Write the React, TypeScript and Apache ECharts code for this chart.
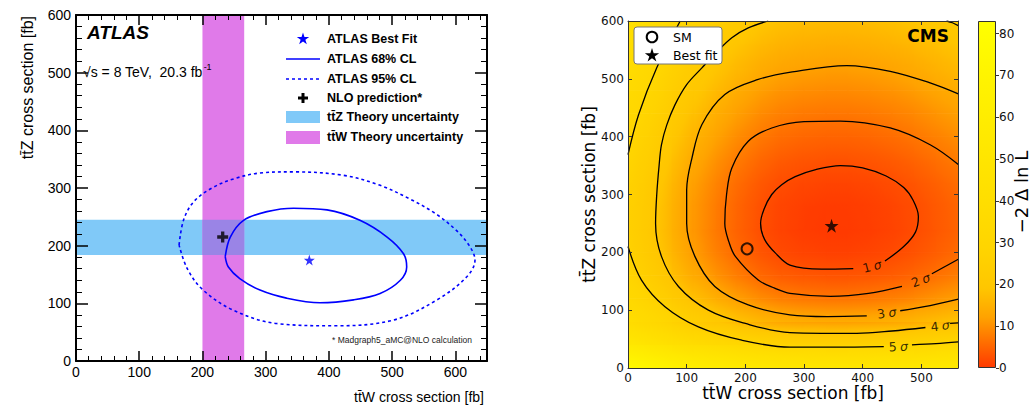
import React, { useEffect, useRef } from 'react';
import * as echarts from 'echarts';

// ---------------- ATLAS panel data ----------------
const ttzBand = [184, 245];
const ttwBand = [200, 266];
const nloPrediction = [232, 215];
const atlasBestFit = [369, 175];
const atlas68 = [[236,181],[244,215],[265,244],[302,259],[344,265],[397,262],[449,244],[492,215],[518,186],[523,163],[513,140],[481,117],[439,106],[386,101],[333,109],[291,123],[259,143],[241,163],[236,181]];
const atlas95 = [[163,201],[170,244],[186,276],[215,300],[250,316],[291,326],[344,328],[423,322],[480,305],[528,281],[568,256],[600,228],[622,200],[631,175],[618,146],[571,106],[502,71],[412,61],[317,65],[249,88],[201,123],[176,160],[163,201]];
const atlasXTicks = [0, 100, 200, 300, 400, 500, 600];

// ---------------- CMS panel data ----------------
const cmsBestFit = [347, 246];
const cmsSM = [203, 206];
const nllX = [18.75, 56.25, 93.75, 131.25, 168.75, 206.25, 243.75, 281.25, 318.75, 356.25, 393.75, 431.25, 468.75, 506.25, 543.75];
const nllY = [20, 60, 100, 140, 180, 220, 260, 300, 340, 380, 420, 460, 500, 540, 580];
// -2 Delta ln L, rows follow nllY (bottom to top), columns follow nllX
const nllGrid = [
  [63.7, 58.4, 53.1, 49.5, 46.4, 44.0, 42.1, 41.1, 40.6, 40.4, 40.6, 41.1, 41.9, 43.1, 44.5],
  [42.3, 37.0, 31.7, 28.1, 25.0, 22.6, 20.7, 19.7, 19.2, 19.0, 19.2, 19.7, 20.5, 21.7, 23.1],
  [33.5, 28.2, 22.9, 19.3, 16.2, 13.8, 11.9, 10.9, 10.4, 10.2, 10.4, 10.9, 11.7, 12.9, 14.3],
  [28.2, 22.9, 17.6, 14.0, 10.9, 8.5, 6.6, 5.6, 5.1, 4.9, 5.1, 5.6, 6.4, 7.6, 9.0],
  [25.1, 19.8, 14.5, 10.9, 7.8, 5.4, 3.5, 2.5, 2.0, 1.8, 2.0, 2.5, 3.3, 4.5, 5.9],
  [23.6, 18.3, 13.0, 9.4, 6.3, 3.9, 2.0, 1.0, 0.5, 0.3, 0.5, 1.0, 1.8, 3.0, 4.4],
  [23.4, 18.1, 12.8, 9.2, 6.1, 3.7, 1.8, 0.8, 0.2, 0.1, 0.3, 0.8, 1.6, 2.8, 4.2],
  [23.9, 18.6, 13.3, 9.7, 6.6, 4.2, 2.3, 1.3, 0.8, 0.6, 0.8, 1.3, 2.1, 3.3, 4.7],
  [25.2, 19.9, 14.6, 11.0, 7.9, 5.5, 3.6, 2.6, 2.1, 1.9, 2.1, 2.6, 3.4, 4.6, 6.0],
  [27.1, 21.8, 16.5, 12.9, 9.8, 7.4, 5.5, 4.5, 4.0, 3.8, 4.0, 4.5, 5.3, 6.5, 7.9],
  [29.2, 23.9, 18.6, 15.0, 11.9, 9.5, 7.6, 6.6, 6.1, 5.9, 6.1, 6.6, 7.4, 8.6, 10.0],
  [31.4, 26.1, 20.8, 17.2, 14.1, 11.7, 9.8, 8.8, 8.3, 8.1, 8.3, 8.8, 9.6, 10.8, 12.2],
  [33.8, 28.5, 23.2, 19.6, 16.5, 14.1, 12.2, 11.2, 10.7, 10.5, 10.7, 11.2, 12.0, 13.2, 14.6],
  [36.2, 30.9, 25.6, 22.0, 18.9, 16.5, 14.6, 13.6, 13.1, 12.9, 13.1, 13.6, 14.4, 15.6, 17.0],
  [38.9, 33.6, 28.3, 24.7, 21.6, 19.2, 17.3, 16.3, 15.8, 15.6, 15.8, 16.3, 17.1, 18.3, 19.7],
];
const contour1s = [[[438,185],[470,210],[490,235],[495,262],[486,290],[470,312],[440,332],[400,346],[362,350],[320,343],[285,331],[262,317],[245,300],[232,275],[226,250],[233,222],[251,199],[276,178],[330,171],[384,172]]];
const contour2s = [[[563,352],[515,386],[447,415],[362,427],[300,426],[245,415],[205,392],[177,346],[168,300],[165,250],[172,218],[183,193],[222,152],[250,138],[276,129],[345,124],[410,129],[467,141]],[[518,163],[563,188]]];
const contour3s = [[[407,90],[340,89],[276,92],[205,109],[148,141],[114,193],[100,250],[100,308],[109,363],[126,421],[165,473],[222,499],[280,512],[373,523],[447,513],[515,493],[563,474]],[[464,99],[515,108],[563,119]]];
const contour4s = [[[507,70],[450,64],[390,60],[330,60],[276,61],[200,77],[137,100],[86,141],[57,193],[47,250],[49,300],[53,350],[57,386],[66,420],[80,455],[100,490],[126,519],[150,545],[177,571],[205,588],[239,600]],[[549,77],[563,78]],[[543,600],[553,597],[563,592]]];
const contour5s = [[[436,37],[350,36],[276,36],[194,48],[120,71],[63,106],[23,152],[0,210]],[[484,40],[525,42],[563,45]],[[0,369],[18,438],[49,519],[89,600]]];
const contourLabelText = ['1', '2', '3', '4', '5'];
const contourLabelPos = [[416,176],[499,152],[441,95],[532,73],[461,37]];
const contourLabelAngle = [15, 20, 8, 7, 3];
const colorbarMax = 83;

// ---------------- styling helpers ----------------
const FL = 'Liberation Sans, Arial, Helvetica, sans-serif';
const FR = 'DejaVu Sans, Verdana, sans-serif';
const cmapStops: [number, number[]][] = [
  [0, [255, 58, 0]], [2.3, [255, 78, 0]], [6, [255, 110, 0]], [12, [255, 162, 0]],
  [19, [255, 198, 0]], [29, [255, 213, 0]], [40, [255, 222, 0]], [55, [255, 233, 0]],
  [70, [255, 244, 0]], [83, [255, 255, 0]],
];
function cmap(v: number) {
  if (v <= cmapStops[0][0]) return toRgb(cmapStops[0][1]);
  for (let i = 1; i < cmapStops.length; i++) {
    const [v1, c1] = cmapStops[i];
    const [v0, c0] = cmapStops[i - 1];
    if (v <= v1) {
      const t = (v - v0) / (v1 - v0);
      return toRgb(c0.map((c, k) => c + (c1[k] - c) * t));
    }
  }
  return toRgb(cmapStops[cmapStops.length - 1][1]);
}
function toRgb(c: number[]) {
  return `rgb(${Math.round(c[0])},${Math.round(c[1])},${Math.round(c[2])})`;
}
function starPoints(cx: number, cy: number, R: number) {
  const pts: number[][] = [];
  for (let i = 0; i < 10; i++) {
    const r = i % 2 === 0 ? R : R * 0.382;
    const a = -Math.PI / 2 + (i * Math.PI) / 5;
    pts.push([cx + r * Math.cos(a), cy + r * Math.sin(a)]);
  }
  return pts;
}
const STAR = 'path://M0,-10L2.245,-3.09L9.51,-3.09L3.633,1.18L5.88,8.09L0,3.82L-5.88,8.09L-3.633,1.18L-9.51,-3.09L-2.245,-3.09Z';
const PLUS = 'path://M3.5,0H6.5V3.5H10V6.5H6.5V10H3.5V6.5H0V3.5H3.5Z';
const bandColors = ['#80c9f8', '#e07ae9', '#9a84e6'];

function buildOption(): any {
  const bandRects = [
    [0, 650, ttzBand[0], ttzBand[1], 0],
    [ttwBand[0], ttwBand[1], 0, 600, 1],
    [ttwBand[0], ttwBand[1], ttzBand[0], ttzBand[1], 2],
  ];
  const heatData: number[][] = [];
  nllY.forEach((y, j) => nllX.forEach((x, i) => heatData.push([x, y, nllGrid[j][i]])));
  const dx = nllX[1] - nllX[0];
  const dy = nllY[1] - nllY[0];
  const nx = nllX.length;
  const ny = nllY.length;

  const contourSeries: any[] = [];
  [contour1s, contour2s, contour3s, contour4s, contour5s].forEach((segs) =>
    segs.forEach((seg) =>
      contourSeries.push({
        type: 'line', xAxisIndex: 2, yAxisIndex: 2, data: seg, smooth: 0.35, symbol: 'none',
        clip: true, z: 3, silent: true, lineStyle: { color: '#000', width: 1.3 },
      })
    )
  );

  const leftAxisLabel = { fontSize: 14, color: '#000', fontFamily: FL };
  const rightAxisLabel = { fontSize: 12, color: '#111', fontFamily: FR };

  const lxBase = {
    type: 'value', gridIndex: 0, min: 0, max: 650, interval: 100, z: 5,
    splitLine: { show: false },
    axisLine: { show: true, onZero: false, lineStyle: { color: '#000', width: 2 } },
    axisTick: { show: true, inside: true, length: 10, lineStyle: { color: '#000', width: 1.5 } },
    minorTick: { show: true, splitNumber: 5, length: 5, lineStyle: { color: '#000', width: 1 } },
  };
  const lyBase = {
    type: 'value', gridIndex: 0, min: 0, max: 600, interval: 100, z: 5,
    splitLine: { show: false },
    axisLine: { show: true, onZero: false, lineStyle: { color: '#000', width: 2 } },
    axisTick: { show: true, inside: true, length: 12, lineStyle: { color: '#000', width: 1.5 } },
    minorTick: { show: true, splitNumber: 5, length: 6, lineStyle: { color: '#000', width: 1 } },
  };
  const rxBase = {
    type: 'value', gridIndex: 1, min: 0, max: 562.5, interval: 100, z: 5,
    splitLine: { show: false },
    axisLine: { show: true, onZero: false, lineStyle: { color: '#333', width: 1 } },
    axisTick: { show: true, inside: true, length: 4, lineStyle: { color: '#333' } },
  };
  const ryBase = {
    type: 'value', gridIndex: 1, min: 0, max: 600, interval: 100, z: 5,
    splitLine: { show: false },
    axisLine: { show: true, onZero: false, lineStyle: { color: '#333', width: 1 } },
    axisTick: { show: true, inside: true, length: 4, lineStyle: { color: '#333' } },
  };

  const txt = (x: number, y: number, text: string, st: any, extra: any = {}) => ({
    type: 'text', x, y, z: 100, ...extra,
    style: { text, fill: '#000', verticalAlign: 'middle', align: 'left', ...st },
  });

  const legRows = [39, 59, 79, 98, 117, 137];
  const legendItems = ['ATLAS Best Fit', 'ATLAS 68% CL', 'ATLAS 95% CL', 'NLO prediction*', 'tt\u0304Z Theory uncertainty', 'tt\u0304W Theory uncertainty'];

  const graphic: any[] = [
    txt(87, 32, 'ATLAS', { fontSize: 19, fontWeight: 'bold', fontStyle: 'italic', fontFamily: FL }),
    txt(83, 72, '{a|\u221As = 8 TeV,  20.3 fb}{b|-1}', {
      fontFamily: FL,
      rich: {
        a: { fontSize: 14, fontFamily: FL, fill: '#000' },
        b: { fontSize: 9, fontFamily: FL, fill: '#000', verticalAlign: 'top', padding: [0, 0, 10, 1] },
      },
    }),
    // legend icons (ATLAS)
    { type: 'polygon', z: 100, shape: { points: starPoints(303, legRows[0], 6.5) }, style: { fill: '#0000ff' } },
    { type: 'line', z: 100, shape: { x1: 286, y1: legRows[1], x2: 320, y2: legRows[1] }, style: { stroke: '#0000ff', lineWidth: 1.6 } },
    { type: 'line', z: 100, shape: { x1: 286, y1: legRows[2], x2: 320, y2: legRows[2] }, style: { stroke: '#0000ff', lineWidth: 1.6, lineDash: [3, 3] } },
    { type: 'rect', z: 100, shape: { x: 298, y: legRows[3] - 1.5, width: 10, height: 3 }, style: { fill: '#000' } },
    { type: 'rect', z: 100, shape: { x: 301.5, y: legRows[3] - 5, width: 3, height: 10 }, style: { fill: '#000' } },
    { type: 'rect', z: 100, shape: { x: 286, y: legRows[4] - 6, width: 34, height: 12 }, style: { fill: bandColors[0] } },
    { type: 'rect', z: 100, shape: { x: 286, y: legRows[5] - 6, width: 34, height: 13 }, style: { fill: bandColors[1] } },
    ...legendItems.map((t, i) => txt(327, legRows[i], t, { fontSize: 12.5, fontWeight: 'bold', fontFamily: FL })),
    txt(332, 340, '* Madgraph5_aMC@NLO calculation', { fontSize: 8.5, fontFamily: FL, fill: '#222' }),
    // ATLAS axis titles
    txt(484, 397, 'tt\u0304W cross section [fb]', { fontSize: 14, fontFamily: FL, align: 'right' }),
    txt(27, 16, 'tt\u0304Z cross section [fb]', { fontSize: 16, fontFamily: FL, align: 'right' }, { rotation: Math.PI / 2 }),
    // CMS legend
    { type: 'rect', z: 100, shape: { x: 634, y: 27, width: 88, height: 37, r: 3 }, style: { fill: '#fff', stroke: '#777', lineWidth: 1 } },
    { type: 'circle', z: 101, shape: { cx: 652, cy: 37, r: 5.3 }, style: { fill: 'none', stroke: '#000', lineWidth: 2 } },
    { type: 'polygon', z: 101, shape: { points: starPoints(652, 55.5, 7.5) }, style: { fill: '#000' } },
    txt(673, 37, 'SM', { fontSize: 12.5, fontFamily: FR }, { z: 101 }),
    txt(673, 55, 'Best fit', { fontSize: 12.5, fontFamily: FR }, { z: 101 }),
    txt(949, 36, 'CMS', { fontSize: 17, fontWeight: 'bold', fontFamily: FR, align: 'right' }),
    // CMS axis titles
    txt(793, 393, 'tt\u0304W cross section [fb]', { fontSize: 17, fontFamily: FR, align: 'center' }),
    txt(589, 194.5, 'tt\u0304Z cross section [fb]', { fontSize: 17, fontFamily: FR, align: 'center' }, { rotation: Math.PI / 2 }),
    txt(1021, 192, '\u22122 \u0394 ln L', { fontSize: 18, fontFamily: FR, align: 'center' }, { rotation: Math.PI / 2 }),
  ];

  const gradStops = cmapStops.map(([v, c]) => ({ offset: v / colorbarMax, color: toRgb(c) }));

  return {
    animation: false,
    backgroundColor: '#fff',
    grid: [
      { left: 76, top: 15, width: 411, height: 346 },
      { left: 628, top: 21, width: 330, height: 347 },
      { left: 978, top: 21, width: 18, height: 347 },
    ],
    xAxis: [
      { ...lxBase, position: 'bottom', axisLabel: { ...leftAxisLabel, margin: 4, customValues: atlasXTicks } },
      { ...lxBase, position: 'top', axisLabel: { show: false } },
      { ...rxBase, position: 'bottom', axisLabel: { ...rightAxisLabel, margin: 4, showMaxLabel: false } },
      { ...rxBase, position: 'top', axisLabel: { show: false } },
      { type: 'category', gridIndex: 2, data: ['cb'], axisLine: { show: false }, axisTick: { show: false }, axisLabel: { show: false } },
    ],
    yAxis: [
      { ...lyBase, position: 'left', axisLabel: { ...leftAxisLabel, margin: 5 } },
      { ...lyBase, position: 'right', axisLabel: { show: false } },
      { ...ryBase, position: 'left', axisLabel: { ...rightAxisLabel, margin: 4 } },
      { ...ryBase, position: 'right', axisLabel: { show: false } },
      {
        type: 'value', gridIndex: 2, min: 0, max: colorbarMax, interval: 10, position: 'right', z: 5,
        splitLine: { show: false }, axisLine: { show: false },
        axisTick: { show: true, inside: false, length: 3, lineStyle: { color: '#333' } },
        axisLabel: { ...rightAxisLabel, margin: 3, showMaxLabel: false },
      },
    ],
    graphic,
    series: [
      {
        type: 'custom', xAxisIndex: 0, yAxisIndex: 0, z: 1, clip: true, silent: true,
        data: bandRects, encode: { x: [0, 1], y: [2, 3] },
        renderItem: (_p: any, api: any) => {
          const p0 = api.coord([api.value(0), api.value(3)]);
          const p1 = api.coord([api.value(1), api.value(2)]);
          return { type: 'rect', shape: { x: p0[0], y: p0[1], width: p1[0] - p0[0], height: p1[1] - p0[1] }, style: { fill: bandColors[api.value(4)] } };
        },
      },
      {
        type: 'line', xAxisIndex: 0, yAxisIndex: 0, data: atlas95, smooth: 0.35, symbol: 'none', z: 3, silent: true,
        lineStyle: { color: '#0000ff', width: 1.6, type: [3, 3] },
      },
      {
        type: 'line', xAxisIndex: 0, yAxisIndex: 0, data: atlas68, smooth: 0.35, symbol: 'none', z: 3, silent: true,
        lineStyle: { color: '#0000ff', width: 1.6 },
      },
      {
        type: 'scatter', xAxisIndex: 0, yAxisIndex: 0, data: [atlasBestFit], symbol: STAR, symbolSize: 11, z: 4,
        itemStyle: { color: '#0000ff' },
      },
      {
        type: 'scatter', xAxisIndex: 0, yAxisIndex: 0, data: [nloPrediction], symbol: PLUS, symbolSize: 11, z: 4,
        itemStyle: { color: '#000' },
      },
      {
        type: 'custom', xAxisIndex: 2, yAxisIndex: 2, z: 1, clip: true, silent: true,
        data: heatData, encode: { x: 0, y: 1 },
        renderItem: (params: any, api: any) => {
          const idx = params.dataIndex;
          const i = idx % nx;
          const j = Math.floor(idx / nx);
          const v = nllGrid[j][i];
          const iL = Math.max(i - 1, 0), iR = Math.min(i + 1, nx - 1);
          const jB = Math.max(j - 1, 0), jT = Math.min(j + 1, ny - 1);
          const gx = (nllGrid[j][iR] - nllGrid[j][iL]) / (nllX[iR] - nllX[iL]);
          const gy = (nllGrid[jT][i] - nllGrid[jB][i]) / (nllY[jT] - nllY[jB]);
          const x = nllX[i], y = nllY[j];
          const p0 = api.coord([x - dx / 2, y + dy / 2]);
          const p1 = api.coord([x + dx / 2, y - dy / 2]);
          const W = p1[0] - p0[0], H = p1[1] - p0[1];
          // shading inside the cell follows the local slope of the grid (like gouraud shading)
          const gxp = (gx * dx) / W, gyp = (-gy * dy) / H;
          const gm = Math.hypot(gxp, gyp);
          let fill: any = cmap(v);
          if (gm > 1e-6) {
            const ux = gxp / gm, uy = gyp / gm;
            const L = Math.abs(ux) * W + Math.abs(uy) * H;
            const cx = (p0[0] + p1[0]) / 2, cy = (p0[1] + p1[1]) / 2;
            const stops: any[] = [];
            for (let k = 0; k <= 6; k++) {
              const t = k / 6;
              stops.push({ offset: t, color: cmap(v + gm * L * (t - 0.5)) });
            }
            fill = new echarts.graphic.LinearGradient(cx - (ux * L) / 2, cy - (uy * L) / 2, cx + (ux * L) / 2, cy + (uy * L) / 2, stops, true);
          }
          return {
            type: 'rect',
            shape: { x: p0[0] - 0.3, y: p0[1] - 0.3, width: W + 0.6, height: H + 0.6 },
            style: { fill },
          };
        },
      },
      ...contourSeries,
      {
        type: 'scatter', xAxisIndex: 2, yAxisIndex: 2, z: 4, symbolSize: 1, silent: true,
        itemStyle: { color: 'rgba(0,0,0,0)' },
        data: contourLabelText.map((t, i) => ({ name: t, value: contourLabelPos[i], label: { rotate: contourLabelAngle[i] } })),
        label: {
          show: true, position: 'inside',
          formatter: (p: any) => `{n|${p.name}} {s|\u03c3}`,
          rich: {
            n: { fontSize: 12.5, fontFamily: FR, color: '#000' },
            s: { fontSize: 12.5, fontFamily: FR, fontStyle: 'italic', color: '#000' },
          },
        },
      },
      {
        type: 'scatter', xAxisIndex: 2, yAxisIndex: 2, z: 5, data: [cmsSM], symbol: 'circle', symbolSize: 11,
        itemStyle: { color: 'rgba(0,0,0,0)', borderColor: '#000', borderWidth: 2 },
      },
      {
        type: 'scatter', xAxisIndex: 2, yAxisIndex: 2, z: 5, data: [cmsBestFit], symbol: STAR, symbolSize: 14,
        itemStyle: { color: '#000' },
      },
      {
        type: 'bar', xAxisIndex: 4, yAxisIndex: 4, data: [colorbarMax], barWidth: '100%', silent: true,
        itemStyle: { color: new echarts.graphic.LinearGradient(0, 1, 0, 0, gradStops), borderColor: '#333', borderWidth: 1 },
      },
    ],
  };
}

export default function App() {
  const ref = useRef<HTMLDivElement>(null);
  useEffect(() => {
    const chart = echarts.init(ref.current as HTMLDivElement, null, { renderer: 'svg' });
    chart.setOption(buildOption());
    return () => chart.dispose();
  }, []);
  return (
    <div
      ref={ref}
      style={{ position: 'absolute', left: 0, top: 0, width: 1032, height: 405, background: '#fff' }}
    />
  );
}
